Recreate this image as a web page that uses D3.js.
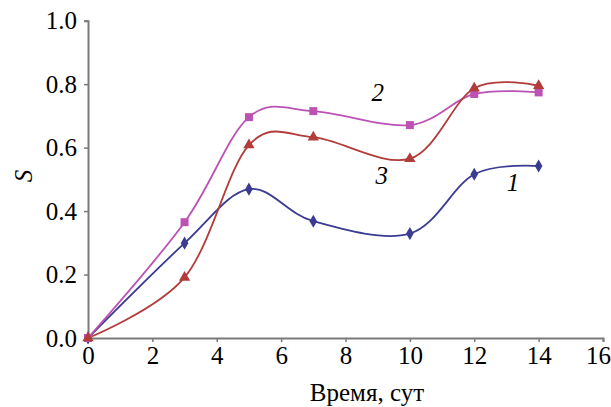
<!DOCTYPE html>
<html><head>
<script src="https://cdn.jsdelivr.net/npm/d3@7"></script>
</head><body style="margin:0">
<svg id="c" width="611" height="407" font-family="Liberation Serif"></svg>
<script>
const days = [0, 3, 5, 7, 10, 12, 14];
const series1 = [0, 0.299, 0.469, 0.368, 0.329, 0.516, 0.542];
const series2 = [0, 0.365, 0.696, 0.715, 0.671, 0.769, 0.774];
const series3 = [0, 0.191, 0.608, 0.633, 0.565, 0.787, 0.795];
const xTicks = [0, 2, 4, 6, 8, 10, 12, 14, 16];
const yTicks = [0, 0.2, 0.4, 0.6, 0.8, 1.0];
const seriesLabels = ["1", "2", "3"];
const xTitle = "Время, сут";
const yTitle = "S";

const svg = d3.select("#c");
const x = d3.scaleLinear().domain([0, 16]).range([88, 603]);
const y = d3.scaleLinear().domain([0, 1]).range([338, 20.7]);
const font = "Liberation Serif";
const axisColor = "#7a7a7a";

const series = [
  {vals: series1, color: "#3b3b92", marker: "diamond", label: seriesLabels[0], lx: 13.2, ly: 0.49},
  {vals: series2, color: "#bb52b4", marker: "square", label: seriesLabels[1], lx: 9.0, ly: 0.776},
  {vals: series3, color: "#b23c3a", marker: "triangle", label: seriesLabels[2], lx: 9.13, ly: 0.514}
];

// axes
const gx = svg.append("g").attr("transform", `translate(0,${y(0)})`)
  .call(d3.axisBottom(x).tickValues(xTicks).tickFormat(d3.format("d")).tickSizeOuter(0).tickSize(4).tickPadding(4));
const gy = svg.append("g").attr("transform", `translate(${x(0)},0)`)
  .call(d3.axisLeft(y).tickValues(yTicks).tickFormat(d3.format(".1f")).tickSizeOuter(0).tickSize(4).tickPadding(7));
[gx, gy].forEach(g => {
  g.attr("font-family", font).attr("font-size", 25);
  g.select(".domain").attr("stroke", axisColor).attr("stroke-width", 2);
  g.selectAll(".tick line").attr("stroke", axisColor).attr("stroke-width", 1.5);
  g.selectAll(".tick text").attr("fill", "#000");
});
gx.selectAll(".tick text").filter(d => d === 16).attr("dx", -5);

// titles
svg.append("text").attr("x", 367).attr("y", 401)
  .attr("text-anchor", "middle").attr("font-size", 25).text(xTitle);
svg.append("text").attr("transform", "translate(32,176) rotate(-90)")
  .attr("text-anchor", "middle").attr("font-size", 25).attr("font-style", "italic").text(yTitle);

const line = d3.line().x((d, i) => x(days[i])).y(d => y(d)).curve(d3.curveCardinal.tension(0));
const sym = {diamond: d3.symbolDiamond, square: d3.symbolSquare, triangle: d3.symbolTriangle};
const size = {diamond: 50, square: 64, triangle: 55};

series.forEach(s => {
  svg.append("path").datum(s.vals).attr("d", line).attr("fill", "none")
    .attr("stroke", s.color).attr("stroke-width", 1.8);
});
series.forEach(s => {
  svg.append("g").selectAll("path").data(s.vals).join("path")
    .attr("transform", (d, i) => `translate(${x(days[i])},${y(d)})`)
    .attr("d", d3.symbol().type(sym[s.marker]).size(size[s.marker]))
    .attr("fill", s.color);
});
series.forEach(s => {
  svg.append("text").attr("x", x(s.lx)).attr("y", y(s.ly))
    .attr("text-anchor", "middle").attr("dy", "0.35em")
    .attr("font-size", 25).attr("font-style", "italic").text(s.label);
});
</script>
</body></html>
